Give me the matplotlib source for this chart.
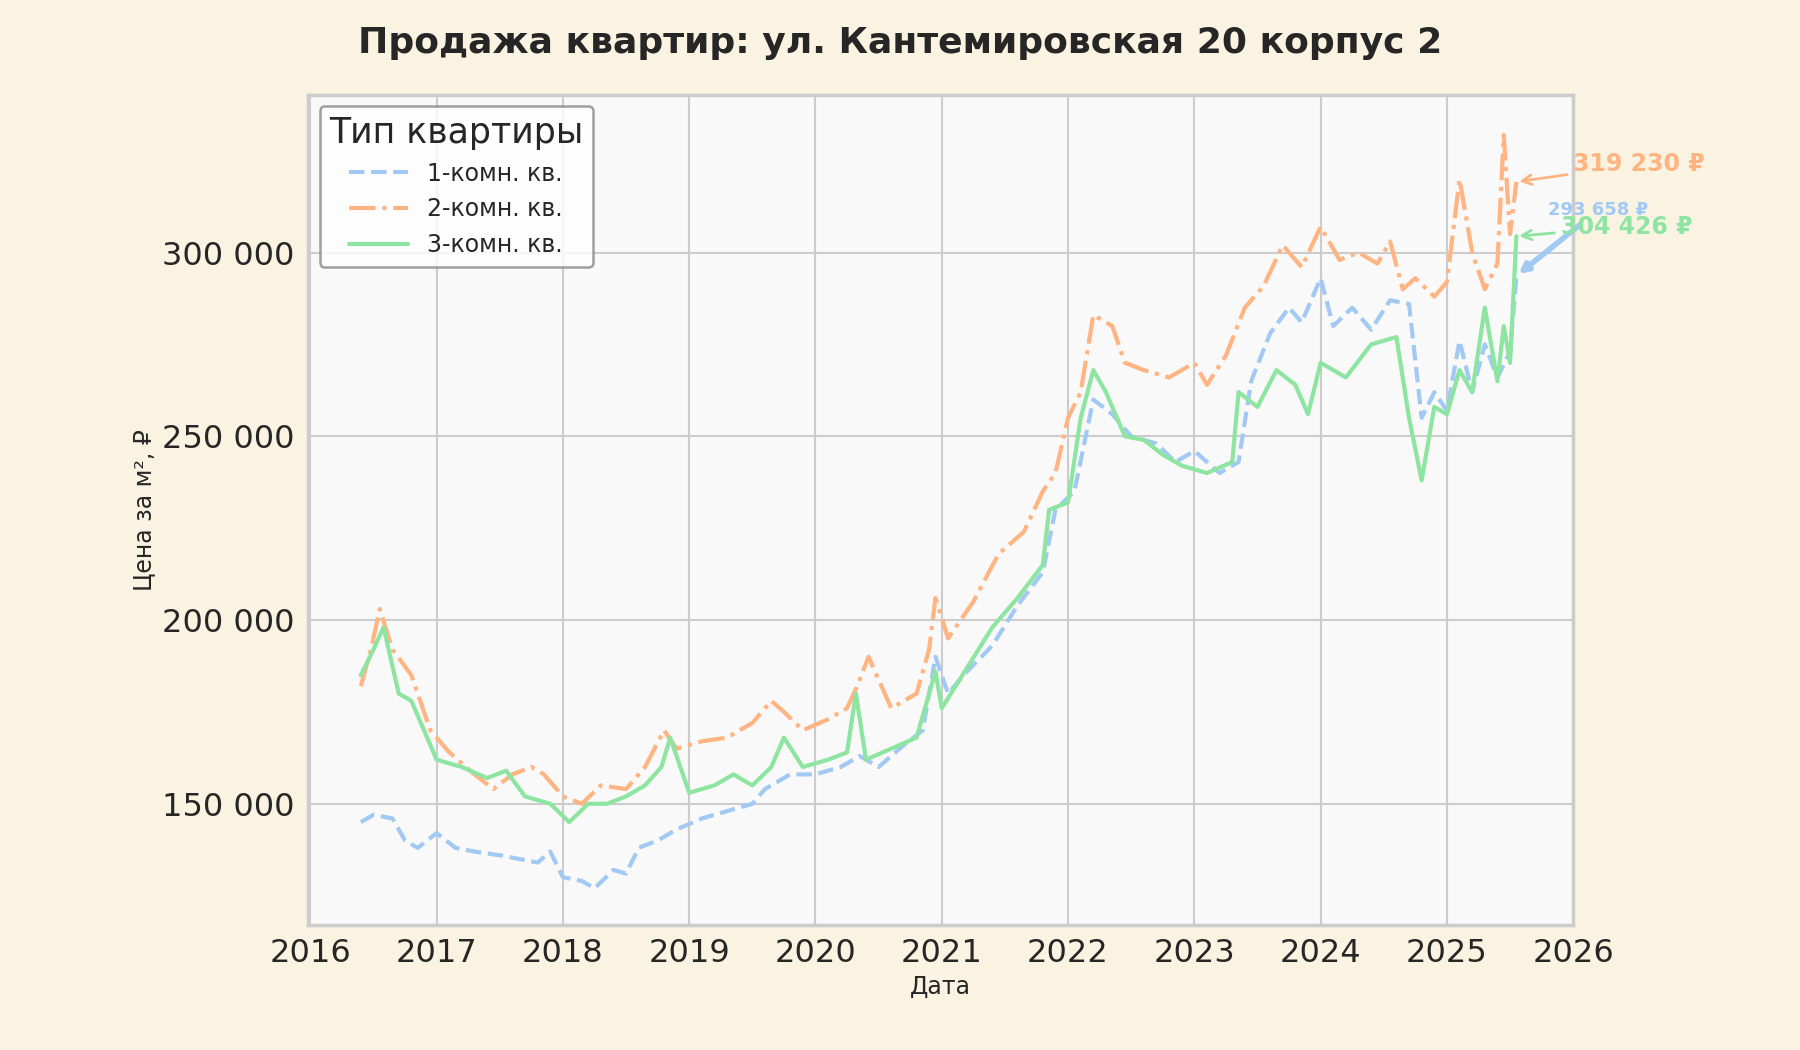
import matplotlib
matplotlib.use("Agg")
import matplotlib.pyplot as plt
import matplotlib.ticker as mticker
import seaborn as sns

# 1-room
t1 = [2016.4, 2016.5, 2016.65, 2016.75, 2016.85, 2017.0, 2017.15, 2017.3, 2017.5, 2017.65, 2017.8,
      2017.9, 2018.0, 2018.15, 2018.25, 2018.4, 2018.5, 2018.6, 2018.75, 2018.9, 2019.1, 2019.3,
      2019.5, 2019.6, 2019.8, 2020.0, 2020.2, 2020.35, 2020.5, 2020.7, 2020.85, 2020.95, 2021.05,
      2021.2, 2021.4, 2021.6, 2021.8, 2021.9, 2022.05, 2022.2, 2022.35, 2022.5, 2022.7, 2022.85,
      2023.0, 2023.2, 2023.35, 2023.45, 2023.6, 2023.75, 2023.85, 2024.0, 2024.1, 2024.25, 2024.4,
      2024.55, 2024.7, 2024.8, 2024.9, 2025.0, 2025.1, 2025.2, 2025.3, 2025.4, 2025.5, 2025.55]
v1 = [145, 147, 146, 140, 138, 142, 138, 137, 136, 135, 134,
      137, 130, 129, 127, 132, 131, 138, 140, 143, 146, 148,
      150, 154, 158, 158, 160, 163, 160, 166, 170, 190, 180,
      186, 193, 204, 213, 230, 235, 260, 256, 250, 248, 243,
      246, 240, 243, 265, 278, 285, 281, 293, 280, 285, 279,
      287, 286, 255, 262, 257, 276, 262, 275, 266, 273, 293.658]

# 2-room
t2 = [2016.4, 2016.48, 2016.55, 2016.65, 2016.8, 2016.95, 2017.1, 2017.3, 2017.45, 2017.6, 2017.75,
      2017.85, 2018.0, 2018.15, 2018.3, 2018.5, 2018.65, 2018.8, 2018.9, 2019.1, 2019.3, 2019.5,
      2019.65, 2019.75, 2019.9, 2020.1, 2020.25, 2020.33, 2020.42, 2020.6, 2020.8, 2020.9, 2020.95,
      2021.05, 2021.25, 2021.45, 2021.65, 2021.8, 2021.9, 2022.0, 2022.1, 2022.2, 2022.35, 2022.45,
      2022.6, 2022.8, 2023.0, 2023.1, 2023.25, 2023.4, 2023.55, 2023.7, 2023.85, 2024.0, 2024.15,
      2024.3, 2024.45, 2024.55, 2024.65, 2024.75, 2024.9, 2025.0, 2025.1, 2025.2, 2025.3, 2025.4,
      2025.45, 2025.5, 2025.55]
v2 = [182, 192, 203, 192, 185, 170, 164, 158, 154, 158, 160,
      158, 152, 150, 155, 154, 160, 170, 165, 167, 168, 172,
      178, 175, 170, 173, 176, 182, 190, 176, 180, 192, 206,
      195, 205, 218, 224, 235, 240, 255, 262, 283, 280, 270,
      268, 266, 270, 264, 272, 285, 291, 302, 296, 307, 298,
      300, 297, 303, 290, 293, 288, 292, 320, 300, 290, 297,
      332, 305, 319.23]

# 3-room
t3 = [2016.4, 2016.5, 2016.58, 2016.7, 2016.8, 2016.9, 2017.0, 2017.2, 2017.4, 2017.55, 2017.7,
      2017.9, 2018.05, 2018.2, 2018.35, 2018.5, 2018.65, 2018.78, 2018.85, 2019.0, 2019.2, 2019.35,
      2019.5, 2019.65, 2019.75, 2019.9, 2020.1, 2020.25, 2020.32, 2020.4, 2020.6, 2020.8, 2020.95,
      2021.0, 2021.2, 2021.4, 2021.6, 2021.8, 2021.85, 2022.0, 2022.1, 2022.2, 2022.3, 2022.45,
      2022.6, 2022.75, 2022.9, 2023.1, 2023.3, 2023.35, 2023.5, 2023.65, 2023.8, 2023.9, 2024.0,
      2024.2, 2024.4, 2024.6, 2024.7, 2024.8, 2024.9, 2025.0, 2025.1, 2025.2, 2025.3, 2025.4,
      2025.45, 2025.5, 2025.55]
v3 = [185, 192, 198, 180, 178, 170, 162, 160, 157, 159, 152,
      150, 145, 150, 150, 152, 155, 160, 168, 153, 155, 158,
      155, 160, 168, 160, 162, 164, 180, 162, 165, 168, 186,
      176, 187, 198, 206, 215, 230, 232, 255, 268, 262, 250,
      249, 245, 242, 240, 243, 262, 258, 268, 264, 256, 270,
      266, 275, 277, 255, 238, 258, 256, 268, 262, 285, 265,
      280, 270, 304.426]

sns.set_theme(style="whitegrid", palette="pastel")
pal = sns.color_palette("pastel")
plt.rcParams["font.family"] = ["DejaVu Sans"]

fig = plt.figure(figsize=(18, 10.5), dpi=100, facecolor="#fbf3e2")
ax = fig.add_axes([0.171, 0.119, 0.703, 0.791])
ax.set_facecolor("#f9f9f9")

ax.plot(t1, [v * 1000 for v in v1], color=pal[0], ls="--", lw=3, label="1-комн. кв.")
ax.plot(t2, [v * 1000 for v in v2], color=pal[1], ls="-.", lw=3, label="2-комн. кв.")
ax.plot(t3, [v * 1000 for v in v3], color=pal[2], ls="-", lw=3, label="3-комн. кв.")

ax.set_xlim(2015.98, 2026)
ax.set_ylim(117000, 343000)
ax.set_xticks(range(2016, 2027))
ax.yaxis.set_major_locator(mticker.MultipleLocator(50000))
ax.yaxis.set_major_formatter(mticker.FuncFormatter(lambda x, p: f"{int(x):,}".replace(",", " ")))
ax.tick_params(labelsize=23)
ax.grid(color="#cccccc", lw=1.5)
for s in ax.spines.values():
    s.set_color("#cccccc")
    s.set_linewidth(2.5)

ax.set_xlabel("Дата", fontsize=17)
ax.set_ylabel("Цена за м², ₽", fontsize=17)
fig.suptitle("Продажа квартир: ул. Кантемировская 20 корпус 2", fontsize=26, fontweight="bold", y=0.975)

leg = ax.legend(title="Тип квартиры", loc="upper left", fontsize=17, title_fontsize=25,
                frameon=True, edgecolor="#888888", handlelength=2.5)
leg.get_frame().set_linewidth(1.8)

ann = [(t2[-1], v2[-1], "319 230 ₽", pal[1], 2026.0, 324000, 2),
       (t1[-1], v1[-1], "293 658 ₽", pal[0], 2025.8, 311500, 4),
       (t3[-1], v3[-1], "304 426 ₽", pal[2], 2025.9, 307000, 2)]
for x, y, txt, c, tx, ty, aw in ann:
    ax.annotate(txt, xy=(x, y * 1000), xytext=(tx, ty), color=c, fontsize=17 if c != pal[0] else 13,
                fontweight="bold", va="center", annotation_clip=False,
                arrowprops=dict(arrowstyle="->", color=c, lw=aw))

fig.savefig("out.png", dpi=100, facecolor=fig.get_facecolor())
